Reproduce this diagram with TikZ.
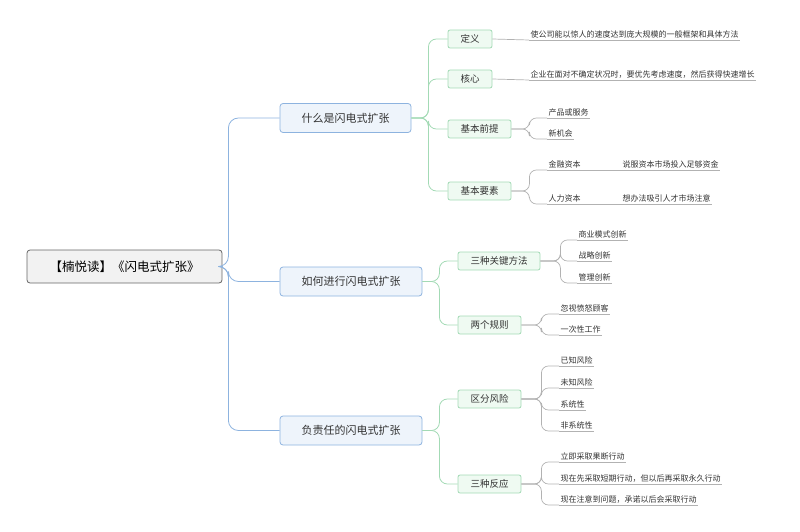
\documentclass[tikz,border=0pt]{standalone}
\usepackage{fontspec}
\setmainfont{Noto Sans CJK SC}
\begin{document}
\begin{tikzpicture}[x=1pt,y=-1pt,
 rootbox/.style={draw=gray!80!black,fill=gray!10,rounded corners=3pt,line width=0.8pt,minimum width=195pt,minimum height=33pt,font=\fontsize{12.5}{14}\selectfont},
 lone/.style={draw=blue1,fill=blue0,rounded corners=3pt,line width=0.8pt,minimum height=29pt,font=\fontsize{11}{13}\selectfont,text=black!80},
 ltwo/.style={draw=green1,fill=green0,rounded corners=2pt,line width=0.8pt,minimum height=18pt,font=\fontsize{9.5}{11}\selectfont,text=black!80},
 leaf/.style={inner sep=1.5pt,anchor=south west,font=\fontsize{8}{10}\selectfont,text=black!80},
 bline/.style={draw=blue1,line width=0.8pt,rounded corners=10pt},
 gline/.style={draw=green1,line width=0.8pt,rounded corners=8pt},
 kline/.style={draw=gray!60,line width=0.7pt,rounded corners=7pt}]
\definecolor{blue1}{HTML}{8DB3DF}\definecolor{blue0}{HTML}{EEF4FB}
\definecolor{green1}{HTML}{A3DAB5}\definecolor{green0}{HTML}{EFFAF2}
\useasboundingbox (0,0) rectangle (800,532);
\node[rootbox] (r) at (124.5,266.5) {【楠悦读】《闪电式扩张》};
\node[lone,minimum width=131pt] (a) at (345.5,118) {什么是闪电式扩张};
\node[lone,minimum width=142pt] (b) at (351,281.5) {如何进行闪电式扩张};
\node[lone,minimum width=142pt] (c) at (351,430.5) {负责任的闪电式扩张};
\foreach \n in {a,b,c} \draw[bline] (r.east) -- ++(6,0) |- (\n.west);
% level 2
\node[ltwo,minimum width=44pt] (a1) at (470,39) {定义};
\node[ltwo,minimum width=44pt] (a2) at (470,79) {核心};
\node[ltwo,minimum width=63pt] (a3) at (479.5,129) {基本前提};
\node[ltwo,minimum width=63pt] (a4) at (479.5,191) {基本要素};
\node[ltwo,minimum width=82pt] (b1) at (499,261) {三种关键方法};
\node[ltwo,minimum width=63pt] (b2) at (489.5,325) {两个规则};
\node[ltwo,minimum width=63pt] (c1) at (489.5,399) {区分风险};
\node[ltwo,minimum width=63pt] (c2) at (489.5,484) {三种反应};
\foreach \n in {a1,a2,a3,a4} \draw[gline] (a.east) -- ++(17,0) |- (\n.west);
\foreach \n in {b1,b2} \draw[gline] (b.east) -- ++(17,0) |- (\n.west);
\foreach \n in {c1,c2} \draw[gline] (c.east) -- ++(17,0) |- (\n.west);
% leaves
\node[leaf] (a1a) at (529,40) {使公司能以惊人的速度达到庞大规模的一般框架和具体方法};
\node[leaf] (a2a) at (529,80) {企业在面对不确定状况时，要优先考虑速度，然后获得快速增长};
\node[leaf] (a3a) at (547,118) {产品或服务};
\node[leaf] (a3b) at (547,139) {新机会};
\node[leaf] (a4a) at (547,170) {金融资本};
\node[leaf] (a4b) at (547,204) {人力资本};
\node[leaf] (a4c) at (621,170) {说服资本市场投入足够资金};
\node[leaf] (a4d) at (621,204) {想办法吸引人才市场注意};
\node[leaf] (b1a) at (577,240) {商业模式创新};
\node[leaf] (b1b) at (577,261) {战略创新};
\node[leaf] (b1c) at (577,283) {管理创新};
\node[leaf] (b2a) at (559,314) {忽视愤怒顾客};
\node[leaf] (b2b) at (559,335) {一次性工作};
\node[leaf] (c1a) at (559,366) {已知风险};
\node[leaf] (c1b) at (559,388) {未知风险};
\node[leaf] (c1c) at (559,410) {系统性};
\node[leaf] (c1d) at (559,431) {非系统性};
\node[leaf] (c2a) at (559,462) {立即采取果断行动};
\node[leaf] (c2b) at (559,484) {现在先采取短期行动，但以后再采取永久行动};
\node[leaf] (c2c) at (559,505) {现在注意到问题，承诺以后会采取行动};
\foreach \n in {a1a,a2a,a3a,a3b,a4a,a4b,a4c,a4d,b1a,b1b,b1c,b2a,b2b,c1a,c1b,c1c,c1d,c2a,c2b,c2c}
  \draw[draw=gray!60,line width=0.7pt] (\n.south west) -- (\n.south east);
\draw[kline] (a1.east) -- (a1a.south west);
\draw[kline] (a2.east) -- (a2a.south west);
\foreach \n in {a3a,a3b} \draw[kline] (a3.east) -- ++(18,0) |- (\n.south west);
\foreach \n in {a4a,a4b} \draw[kline] (a4.east) -- ++(18,0) |- (\n.south west);
\draw[kline] (a4a.south east) -- (a4c.south west);
\draw[kline] (a4b.south east) -- (a4d.south west);
\foreach \n in {b1a,b1b,b1c} \draw[kline] (b1.east) -- ++(20,0) |- (\n.south west);
\foreach \n in {b2a,b2b} \draw[kline] (b2.east) -- ++(20,0) |- (\n.south west);
\foreach \n in {c1a,c1b,c1c,c1d} \draw[kline] (c1.east) -- ++(20,0) |- (\n.south west);
\foreach \n in {c2a,c2b,c2c} \draw[kline] (c2.east) -- ++(20,0) |- (\n.south west);
\end{tikzpicture}
\end{document}
